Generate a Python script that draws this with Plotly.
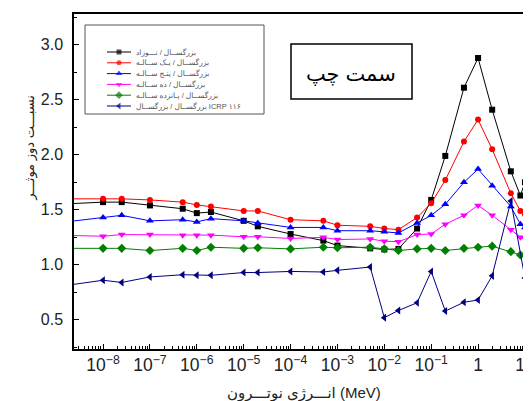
import plotly.graph_objects as go

energy = [1e-9, 1e-8, 2.5e-8, 1e-7, 5e-7, 1e-6, 2e-6, 1e-5, 2e-5, 1e-4, 5e-4, 1e-3,
          5e-3, 1e-2, 2e-2, 5e-2, 0.1, 0.2, 0.5, 1, 2, 5, 8, 10, 12, 15, 18]

newborn = [1.55, 1.57, 1.57, 1.54, 1.51, 1.47, 1.48, 1.40, 1.35, 1.28, 1.22, 1.175,
           1.15, 1.14, 1.145, 1.33, 1.59, 1.99, 2.61, 2.88, 2.41, 1.85, 1.63, 1.75, 1.57, 1.46, 1.40]
one_year = [1.60, 1.60, 1.60, 1.59, 1.57, 1.545, 1.53, 1.49, 1.49, 1.41, 1.40, 1.36,
            1.35, 1.33, 1.32, 1.43, 1.56, 1.77, 2.12, 2.32, 2.05, 1.65, 1.49, 1.46, 1.44, 1.40, 1.35]
five_year = [1.38, 1.43, 1.45, 1.40, 1.41, 1.39, 1.42, 1.40, 1.38, 1.34, 1.34, 1.31,
             1.31, 1.30, 1.29, 1.38, 1.45, 1.55, 1.75, 1.87, 1.72, 1.53, 1.37, 1.34, 1.31, 1.27, 1.23]
ten_year = [1.27, 1.26, 1.275, 1.275, 1.27, 1.27, 1.27, 1.255, 1.255, 1.24, 1.25, 1.23,
            1.235, 1.215, 1.21, 1.275, 1.28, 1.37, 1.45, 1.54, 1.45, 1.32, 1.25, 1.24, 1.22, 1.20, 1.17]
fifteen_year = [1.15, 1.15, 1.15, 1.13, 1.15, 1.13, 1.16, 1.15, 1.155, 1.145, 1.16, 1.155,
                1.16, 1.145, 1.13, 1.145, 1.15, 1.13, 1.15, 1.16, 1.17, 1.12, 1.09, 1.09, 1.08, 1.08, 1.07]
icrp116 = [0.80, 0.86, 0.84, 0.89, 0.91, 0.905, 0.905, 0.93, 0.93, 0.94, 0.935, 0.95,
           0.98, 0.52, 0.585, 0.655, 0.94, 0.58, 0.66, 0.68, 0.90, 1.58, None, 0.88, 0.81, 0.74, 0.69]

names = ["بزرگســال / نـــوزاد", "بزرگســال / یـک ســالـه", "بزرگســال / پنـج ســالـه",
         "بزرگســال / ده ســالـه", "بزرگســال / پـانزده ســالـه", "بزرگســال / بزرگســال ICRP ۱۱۶"]
series = [newborn, one_year, five_year, ten_year, fifteen_year, icrp116]
colors = ["#000000", "#ff0000", "#0000ff", "#ff00ff", "#008000", "#000080"]
symbols = ["square", "circle", "triangle-up", "triangle-down", "diamond", "triangle-left"]
sizes = [6, 6, 7, 7, 7, 7]

font_family = "Arial, Liberation Sans, DejaVu Sans, sans-serif"

fig = go.Figure()
for name, ys, c, s, sz in zip(names, series, colors, symbols, sizes):
    fig.add_trace(go.Scatter(
        x=energy, y=ys, name=name, mode="lines+markers", connectgaps=True,
        line=dict(color=c, width=1),
        marker=dict(symbol=s, color=c, size=sz, line=dict(width=0)),
        showlegend=False,
    ))

# ---- compact legend drawn on a hidden overlay axis (page-pixel coordinates) ----
LEG_LEFT, LEG_RIGHT, LEG_TOP, LEG_BOTTOM = 77, 256, 17, 106
LEG_Y0, LEG_DY = 44, 10.8
KEY_X0, KEY_XM, KEY_X1, TEXT_X = 99, 111, 123, 126
for i, (name, c, s, sz) in enumerate(zip(names, colors, symbols, sizes)):
    yy = LEG_Y0 + i * LEG_DY
    fig.add_trace(go.Scatter(
        x=[KEY_X0, KEY_XM, KEY_X1], y=[yy, yy, yy], xaxis="x2", yaxis="y2",
        mode="lines+markers", showlegend=False, hoverinfo="skip", cliponaxis=False,
        line=dict(color=c, width=1),
        marker=dict(symbol=s, color=c, size=[0, sz - 1, 0], line=dict(width=0)),
    ))
    fig.add_annotation(text=name, xref="x2", yref="y2", x=TEXT_X, y=yy,
                       xanchor="left", yanchor="middle", showarrow=False,
                       font=dict(size=7.5, color="#555", family=font_family))
fig.add_shape(type="rect", xref="x2", yref="y2", x0=LEG_LEFT, x1=LEG_RIGHT,
              y0=LEG_TOP, y1=LEG_BOTTOM, line=dict(color="#555", width=1),
              fillcolor="rgba(0,0,0,0)", layer="above")

fig.update_layout(
    width=531, height=401,
    margin=dict(l=66, r=0, t=6, b=60),
    paper_bgcolor="white", plot_bgcolor="white",
    font=dict(family=font_family, color="#222"),
    showlegend=False,
    xaxis=dict(
        type="log", range=[-8.62, 1.30], dtick=1, exponentformat="power",
        showgrid=False, zeroline=False,
        showline=True, linecolor="black", linewidth=1.5, mirror=True,
        ticks="inside", ticklen=5, tickcolor="black",
        minor=dict(ticks="inside", ticklen=3, dtick="D1", tickcolor="black", showgrid=False),
        tickfont=dict(size=14, color="#222", family=font_family),
    ),
    yaxis=dict(
        range=[0.235, 3.28], dtick=0.5, tickformat=".1f",
        showgrid=False, zeroline=False,
        showline=True, linecolor="black", linewidth=1.5, mirror=False,
        ticks="inside", ticklen=5, tickcolor="black", ticklabelstandoff=6,
        minor=dict(ticks="inside", ticklen=3, dtick=0.25, tickcolor="black"),
        tickfont=dict(size=16, color="#222", family=font_family),
    ),
    xaxis2=dict(overlaying="x", anchor="y2", range=[66, 531], visible=False,
                domain=[0, 1], type="linear"),
    yaxis2=dict(overlaying="y", anchor="x2", range=[341, 6], visible=False,
                domain=[0, 1], type="linear"),
)

# Box with label "left side"
fig.add_shape(type="rect", xref="x2", yref="y2", x0=283, x1=404, y0=36, y1=91,
              line=dict(color="black", width=1.5), fillcolor="white", layer="above")
fig.add_annotation(text="سمت چپ", xref="x2", yref="y2", x=343, y=66,
                   showarrow=False, font=dict(size=21, color="black", family=font_family))

# Axis titles
fig.add_annotation(text="انـــرژی نوتـــرون (MeV)", xref="paper", yref="paper",
                   x=0.495, y=-0.13, xanchor="center", yanchor="middle", showarrow=False,
                   font=dict(size=15, color="#222", family=font_family))
fig.add_annotation(text="نسبـــت دوز موثـــر", xref="paper", yref="paper",
                   x=-0.095, y=0.6, xanchor="center", yanchor="middle", showarrow=False,
                   textangle=-90, font=dict(size=13, color="#222", family=font_family))

fig.write_html("out.html")
